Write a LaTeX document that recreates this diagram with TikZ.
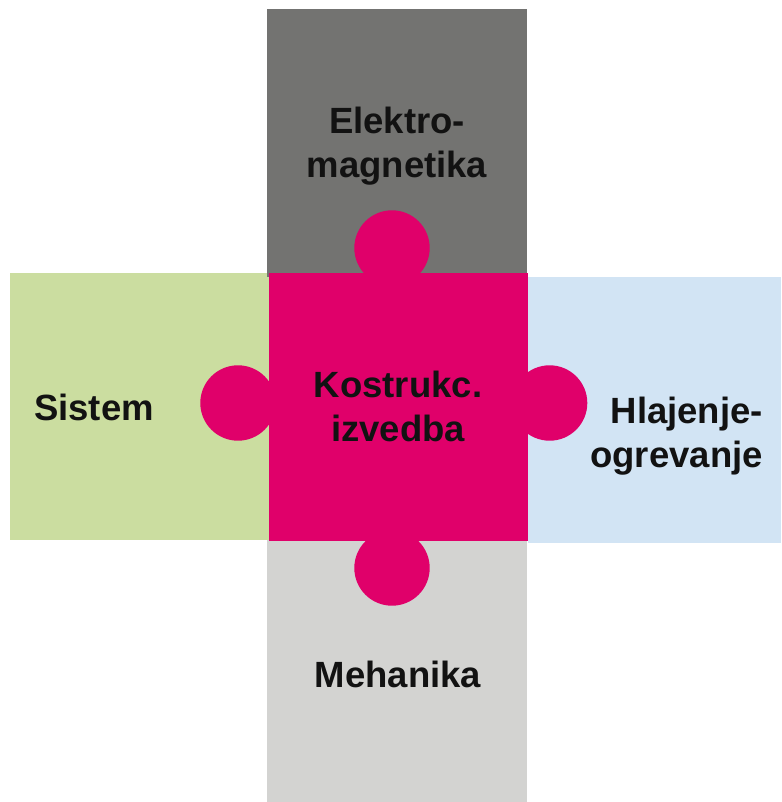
\documentclass[tikz,border=0pt]{standalone}
\usepackage{fontspec}
\setmainfont{Liberation Sans}
\usepackage{tikz}
\usetikzlibrary{positioning}
\definecolor{pinkmain}{RGB}{224,0,106}
\definecolor{graydark}{RGB}{115,115,113}
\definecolor{graylight}{RGB}{211,211,209}
\definecolor{greenpale}{RGB}{203,221,160}
\definecolor{bluepale}{RGB}{210,228,244}
\tikzset{
  piece/.style={inner sep=0pt, font=\bfseries\fontsize{36.5}{44}\selectfont, text=black!93},
  knob/.style={fill=pinkmain}
}
\begin{document}
\begin{tikzpicture}[x=1pt, y=-1pt]
  \useasboundingbox (0,0) rectangle (781,802);
  % outer pieces
  \fill[greenpale] (10,273) rectangle (269,540);
  \fill[graydark] (267,9) rectangle (527,277);
  \fill[bluepale] (528,277) rectangle (781,543);
  \fill[graylight] (267,540) rectangle (527,802);
  % knobs
  \fill[knob] (392,248) circle (37.7);
  \fill[knob] (238,403) circle (37.7);
  \fill[knob] (549.6,403) circle (37.7);
  \fill[knob] (392,568) circle (37.7);
  % centre piece
  \fill[pinkmain] (269,273) rectangle (528,540.5);
  % labels
  \node[piece, align=center] (elektro) at (397,146.2) {Elektro-\\magnetika};
  \node[piece, anchor=base] (sistem) at (94,420) {Sistem};
  \node[piece, align=center] (kostr) at (398,406) {Kostrukc.\\izvedba};
  \node[piece, align=right, anchor=east] (hlajenje) at (763,436) {Hlajenje-\\ogrevanje};
  \node[piece, anchor=base] (mehanika) at (398,687.3) {Mehanika};
\end{tikzpicture}
\end{document}
